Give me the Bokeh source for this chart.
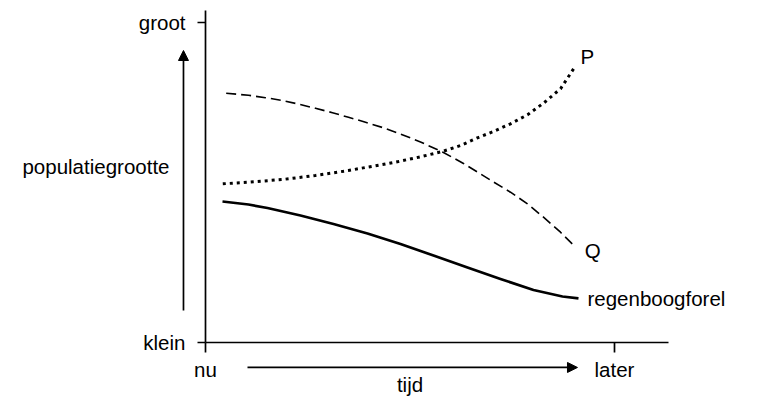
from bokeh.plotting import figure
from bokeh.models import FixedTicker, Label, Arrow, NormalHead, Range1d
from bokeh.embed import file_html
from bokeh.resources import INLINE

# x: 0 = "nu", 100 = "later"; y: 0 = "klein", 100 = "groot"
x_ticks = [0, 100]
x_tick_labels = ["nu", "later"]
y_ticks = [0, 100]
y_tick_labels = ["klein", "groot"]

forel_x = [4.16, 10.51, 15.16, 23.23, 31.30, 39.61, 47.68, 55.75, 64.06, 72.13, 80.20, 87.29, 91.20]
forel_y = [44.06, 43.13, 42.03, 39.69, 37.03, 34.06, 30.78, 27.19, 23.44, 19.84, 16.41, 14.38, 13.81]

q_x = [5.06, 10.51, 14.67, 18.83, 22.74, 26.89, 31.05, 34.96, 39.12, 43.28, 47.19,
       52.57, 57.95, 63.08, 66.50, 70.42, 74.57, 78.73, 82.64, 86.80, 90.05]
q_y = [77.91, 77.25, 76.50, 75.63, 74.50, 73.19, 71.81, 70.38, 68.84, 67.19, 65.41,
       62.66, 59.53, 55.94, 53.28, 50.16, 46.97, 43.34, 39.16, 34.47, 30.31]

p_x = [4.23, 10.51, 18.83, 26.89, 34.96, 43.28, 47.19, 52.57, 57.95, 62.35, 66.50,
       70.42, 74.57, 78.73, 82.64, 86.80, 90.22]
p_y = [49.59, 50.09, 50.94, 52.19, 53.75, 55.63, 56.56, 58.03, 59.69, 61.56, 63.97,
       65.94, 68.34, 71.16, 74.78, 79.28, 85.94]

FONT = "Liberation Sans"
FS = "20.5px"

p = figure(width=773, height=406, output_backend="svg", toolbar_location=None,
           x_range=Range1d(-50.12, 138.88), y_range=Range1d(-20.0, 106.875),
           min_border=0)
p.outline_line_color = None
p.xgrid.visible = False
p.ygrid.visible = False
p.background_fill_color = "white"
p.border_fill_color = "white"

for ax, ticks, labels, bounds in ((p.xaxis[0], x_ticks, x_tick_labels, (0, 113.2)),
                                  (p.yaxis[0], y_ticks, y_tick_labels, (0, 103.75))):
    ax.ticker = FixedTicker(ticks=ticks)
    ax.major_label_overrides = {t: l for t, l in zip(ticks, labels)}
    ax.bounds = bounds
    ax.fixed_location = 0
    ax.minor_tick_line_color = None
    ax.major_tick_in = 0
    ax.axis_line_color = "black"
    ax.axis_line_width = 1.7
    ax.major_tick_line_color = "black"
    ax.major_tick_line_width = 1.7
    ax.major_label_text_font = FONT
    ax.major_label_text_font_size = FS
    ax.major_label_text_color = "black"
    ax.major_label_text_font_style = "normal"

p.yaxis.major_tick_out = 8
p.yaxis.major_label_standoff = 12
p.xaxis.major_tick_out = 10
p.xaxis.major_label_standoff = 5

p.line(forel_x, forel_y, line_color="black", line_width=2.7, line_join="round")
p.line(q_x, q_y, line_color="black", line_width=1.6, line_dash="10 5", line_join="round")
p.line(p_x, p_y, line_color="black", line_width=3, line_dash="3 4", line_join="round")

def lab(x, y, t, align="left"):
    p.add_layout(Label(x=x, y=y, text=t, text_font=FONT, text_font_size=FS,
                       text_color="black", text_align=align,
                       text_baseline="alphabetic"))

lab(91.7, 89.4, "P")
lab(92.7, 28.6, "Q")
lab(93.4, 13.8, "regenboogforel")
lab(-8.8, 55.0, "populatiegrootte", align="right")
lab(50.0, -13.2, "tijd", align="center")

p.add_layout(Arrow(end=NormalHead(size=10, fill_color="black", line_color="black"),
                   x_start=-5.38, y_start=10.0, x_end=-5.38, y_end=91.25,
                   line_color="black", line_width=1.7))
p.add_layout(Arrow(end=NormalHead(size=10, fill_color="black", line_color="black"),
                   x_start=10.27, y_start=-7.8, x_end=90.95, y_end=-7.8,
                   line_color="black", line_width=1.7))

open("out.html", "w").write(file_html(p, INLINE))
